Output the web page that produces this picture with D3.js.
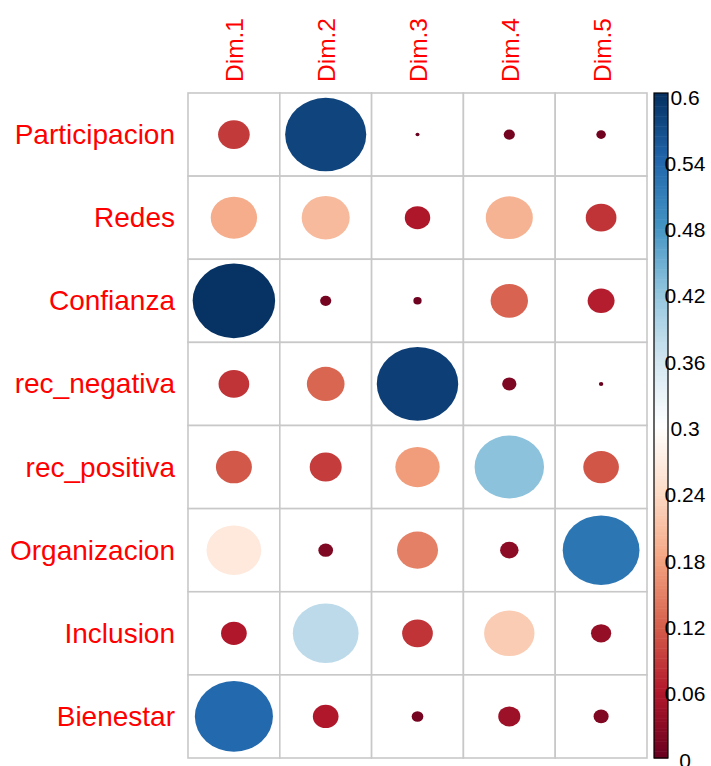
<!DOCTYPE html>
<html>
<head>
<meta charset="utf-8">
<script src="https://cdn.jsdelivr.net/npm/d3@7"></script>
<style>
  html, body { margin: 0; padding: 0; background: #fff; }
  svg { display: block; font-family: "Liberation Sans", Arial, sans-serif; }
</style>
</head>
<body>
<svg id="chart" width="711" height="766"></svg>
<script>
const rows = ["Participacion", "Redes", "Confianza", "rec_negativa", "rec_positiva", "Organizacion", "Inclusion", "Bienestar"];
const dims = ["Dim.1", "Dim.2", "Dim.3", "Dim.4", "Dim.5"];
// values per row, columns Dim.1..Dim.5
const vParticipacion = [0.088, 0.578, 0.0014, 0.011, 0.008];
const vRedes         = [0.189, 0.203, 0.057, 0.195, 0.083];
const vConfianza     = [0.598, 0.011, 0.006, 0.123, 0.064];
const vRecNegativa   = [0.083, 0.125, 0.583, 0.018, 0.0017];
const vRecPositiva   = [0.114, 0.090, 0.173, 0.424, 0.112];
const vOrganizacion  = [0.263, 0.019, 0.148, 0.030, 0.518];
const vInclusion     = [0.058, 0.380, 0.083, 0.223, 0.036];
const vBienestar     = [0.536, 0.058, 0.012, 0.043, 0.020];
const values = [vParticipacion, vRedes, vConfianza, vRecNegativa, vRecPositiva, vOrganizacion, vInclusion, vBienestar];
const legendTicks = [0, 0.06, 0.12, 0.18, 0.24, 0.3, 0.36, 0.42, 0.48, 0.54, 0.6];
const legendLabels = ["0", "0.06", "0.12", "0.18", "0.24", "0.3", "0.36", "0.42", "0.48", "0.54", "0.6"];
const palette = ["#67001F","#B2182B","#D6604D","#F4A582","#FDDBC7","#FFFFFF","#D1E5F0","#92C5DE","#4393C3","#2166AC","#053061"];
const vmax = 0.6;

const svg = d3.select("#chart");
const x = d3.scaleBand().domain(dims).range([188, 647]);
const y = d3.scaleBand().domain(rows).range([93, 758]);
const color = d3.scaleLinear()
  .domain(palette.map((_, i) => i * vmax / (palette.length - 1)))
  .range(palette).interpolate(d3.interpolateRgb).clamp(true);
const size = d3.scaleSqrt().domain([0, vmax]).range([0, 0.45]);

const cells = [];
rows.forEach((r, i) => dims.forEach((d, j) => cells.push({ r, d, v: values[i][j] })));

// cell backgrounds + grid
svg.append("g").selectAll("rect").data(cells).join("rect")
  .attr("x", c => x(c.d)).attr("y", c => y(c.r))
  .attr("width", x.bandwidth()).attr("height", y.bandwidth())
  .attr("fill", "#fff").attr("stroke", "#c8c8c8").attr("stroke-width", 1.6);

// circles
svg.append("g").selectAll("ellipse").data(cells).join("ellipse")
  .attr("cx", c => x(c.d) + x.bandwidth() / 2)
  .attr("cy", c => y(c.r) + y.bandwidth() / 2)
  .attr("rx", c => size(c.v) * x.bandwidth())
  .attr("ry", c => size(c.v) * y.bandwidth())
  .attr("fill", c => color(c.v));

// row labels
svg.append("g").selectAll("text").data(rows).join("text")
  .attr("x", 175).attr("y", r => y(r) + y.bandwidth() / 2)
  .attr("text-anchor", "end").attr("dominant-baseline", "central")
  .attr("font-size", 28).attr("fill", "#ff0000").text(r => r);

// column labels
svg.append("g").selectAll("text").data(dims).join("text")
  .attr("transform", d => `translate(${x(d) + x.bandwidth() / 2 + 1},82) rotate(-90)`)
  .attr("text-anchor", "start").attr("dominant-baseline", "central")
  .attr("font-size", 24.5).attr("fill", "#ff0000").text(d => d);

// color legend
const ly = d3.scaleLinear().domain([0, vmax]).range([758, 93]);
const nBins = 200;
const bins = d3.range(nBins).map(i => ({ a: i * vmax / nBins, b: (i + 1) * vmax / nBins }));
svg.append("g").selectAll("rect").data(bins).join("rect")
  .attr("x", 654).attr("width", 14)
  .attr("y", b => ly(b.b)).attr("height", b => ly(b.a) - ly(b.b) + 0.5)
  .attr("fill", b => color((b.a + b.b) / 2));
svg.append("rect").attr("x", 654).attr("y", 93).attr("width", 14).attr("height", 665)
  .attr("fill", "none").attr("stroke", "#000").attr("stroke-width", 1.2);

const lt = d3.scaleLinear().domain([0, vmax]).range([760, 97]);
svg.append("g").selectAll("text").data(legendTicks).join("text")
  .attr("x", 685).attr("y", t => lt(t))
  .attr("text-anchor", "middle").attr("dominant-baseline", "central")
  .attr("font-size", 21).attr("fill", "#000")
  .text((t, i) => legendLabels[i]);
</script>
</body>
</html>
